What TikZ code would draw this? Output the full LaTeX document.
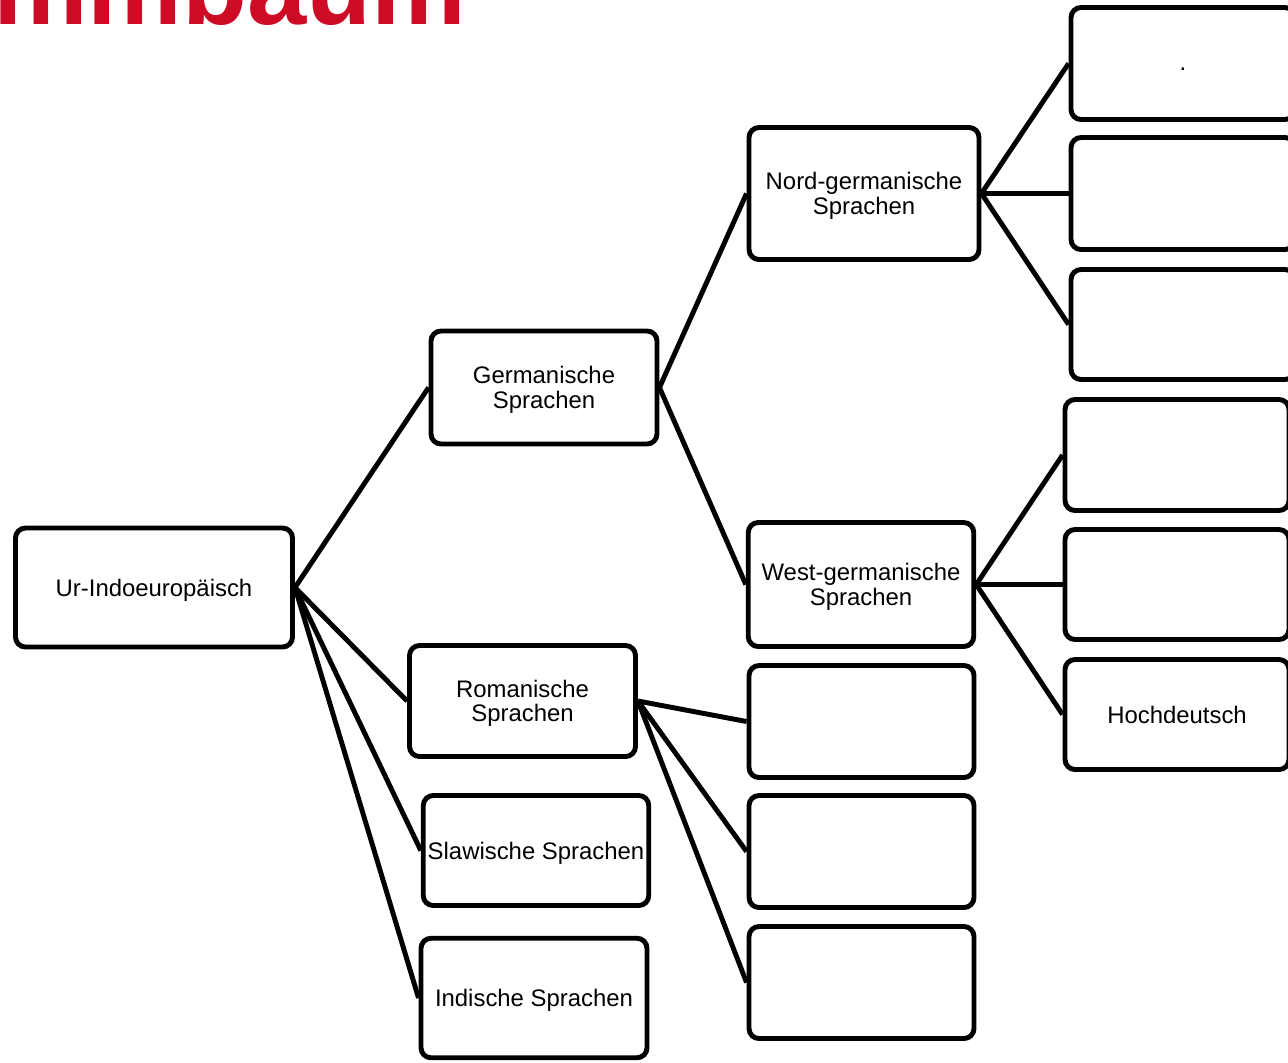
\documentclass[tikz,border=0pt]{standalone}
\usepackage{fontspec}
\setmainfont{Liberation Sans}
\usepackage{xcolor}
\usepackage{tikz}
\definecolor{titleRed}{RGB}{206,11,36}
\tikzset{
box/.style = {rectangle, draw=black, line width=2.8pt, rounded corners=0.2cm,
              align=center, inner sep=1pt, text depth=0pt, minimum width=#1,
              font=\fontsize{13.6}{14}\selectfont},
box/.default = 4.5cm % width of the language boxes
}
\tikzset{
branch/.style = {line width=2.8pt}
}

\begin{document}
\begin{tikzpicture}
    \useasboundingbox (0,0) rectangle (25.76,-21.24);
    % title, cut off at the upper edge
    \node[anchor=base east, inner sep=0pt, text=titleRed,
          font=\fontsize{60.6}{62}\selectfont\bfseries] (titleText) at (9.34,-0.48) {Stammbaum};

    \node[box=5.54cm, minimum height=2.38cm] (urBox) at (3.08,-11.75) {Ur-Indoeuropäisch};

    \node[box=4.52cm, minimum height=2.26cm] (germBox) at (10.88,-7.75) {Germanische\\Sprachen};
    \node[box=4.52cm, minimum height=2.22cm] (romBox) at (10.45,-14.02) {Romanische\\Sprachen};
    \node[box=4.51cm, minimum height=2.20cm] (slawBox) at (10.72,-17.01) {Slawische Sprachen};
    \node[box=4.52cm, minimum height=2.39cm] (indBox) at (10.68,-19.96) {Indische Sprachen};

    \node[box=4.60cm, minimum height=2.64cm] (nordBox) at (17.28,-3.87) {Nord-germanische\\Sprachen};
    \node[box=4.51cm, minimum height=2.48cm] (westBox) at (17.22,-11.69) {West-germanische\\Sprachen};

    \node[box, minimum height=2.24cm] (romA) at (17.23,-14.43) {};
    \node[box, minimum height=2.24cm] (romB) at (17.23,-17.03) {};
    \node[box, minimum height=2.24cm] (romC) at (17.23,-19.65) {};

    \node[box=4.48cm, minimum height=2.24cm] (nordA) at (23.66,-1.27) {\rule{0pt}{8pt}.};
    \node[box=4.48cm, minimum height=2.24cm] (nordB) at (23.66,-3.87) {};
    \node[box=4.48cm, minimum height=2.20cm] (nordC) at (23.66,-6.49) {};

    \node[box=4.48cm, minimum height=2.22cm] (westA) at (23.54,-9.10) {};
    \node[box=4.48cm, minimum height=2.20cm] (westB) at (23.54,-11.69) {};
    \node[box=4.48cm, minimum height=2.20cm] (westC) at (23.54,-14.29) {Hochdeutsch};

    \draw[branch] (urBox.east) -- (germBox.west);
    \draw[branch] (urBox.east) -- (romBox.west);
    \draw[branch] (urBox.east) -- (slawBox.west);
    \draw[branch] (urBox.east) -- (indBox.west);

    \draw[branch] (germBox.east) -- (nordBox.west);
    \draw[branch] (germBox.east) -- (westBox.west);

    \draw[branch] (nordBox.east) -- (nordA.west);
    \draw[branch] (nordBox.east) -- (nordB.west);
    \draw[branch] (nordBox.east) -- (nordC.west);

    \draw[branch] (westBox.east) -- (westA.west);
    \draw[branch] (westBox.east) -- (westB.west);
    \draw[branch] (westBox.east) -- (westC.west);

    \draw[branch] (romBox.east) -- (romA.west);
    \draw[branch] (romBox.east) -- (romB.west);
    \draw[branch] (romBox.east) -- (romC.west);
\end{tikzpicture}
\end{document}
